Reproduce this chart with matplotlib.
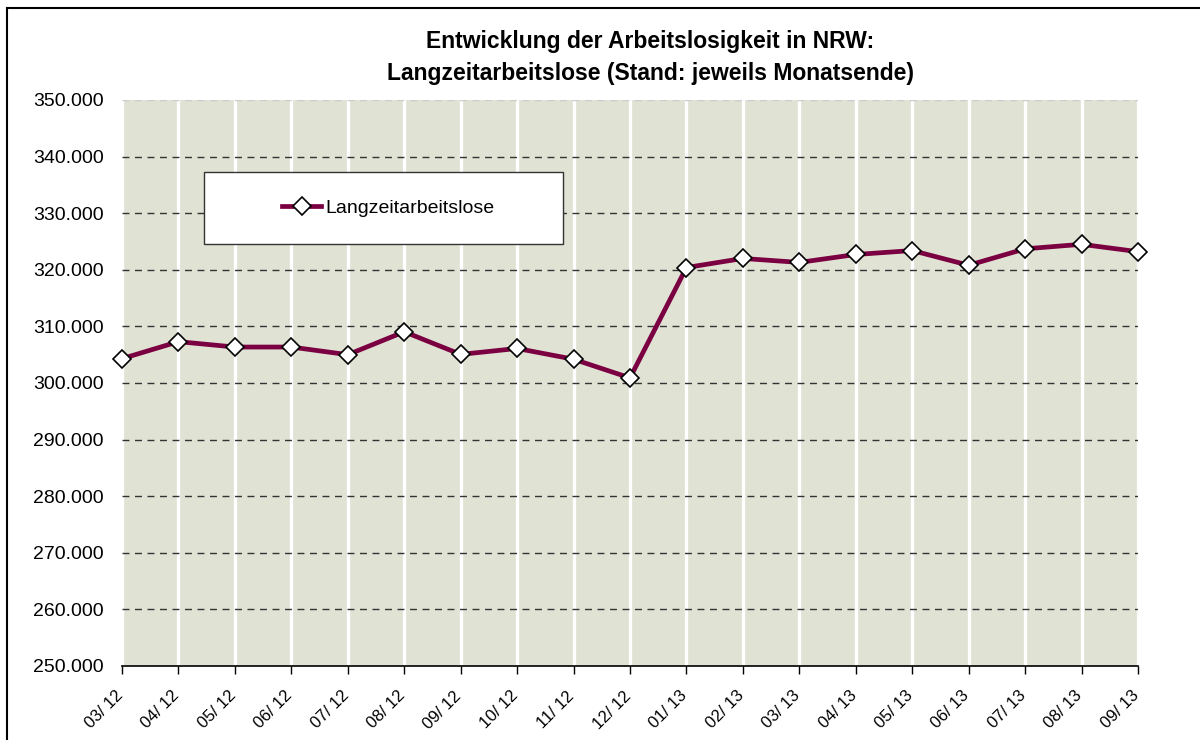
import matplotlib
matplotlib.use('Agg')
import matplotlib.pyplot as plt
from matplotlib.patches import Rectangle
from matplotlib.ticker import FuncFormatter
from matplotlib.transforms import ScaledTranslation

plt.rcParams['font.family'] = ['Liberation Sans', 'DejaVu Sans']

monate = ['03/ 12', '04/ 12', '05/ 12', '06/ 12', '07/ 12', '08/ 12', '09/ 12',
          '10/ 12', '11/ 12', '12/ 12', '01/ 13', '02/ 13', '03/ 13', '04/ 13',
          '05/ 13', '06/ 13', '07/ 13', '08/ 13', '09/ 13']
langzeit = [304300, 307300, 306350, 306350, 305000, 309050, 305050, 306100,
            304200, 300900, 320400, 322000, 321300, 322700, 323400, 320800,
            323700, 324500, 323200]
y_ticks = list(range(250000, 350001, 10000))

fig = plt.figure(figsize=(12, 7.4), dpi=100)
ax = fig.add_axes([0.1017, 0.1, 0.8466, 0.7649])
ax.set_facecolor('#e0e2d4')

x = list(range(len(monate)))

# weisse senkrechte Linien an jedem Monat
for xi in x:
    ax.axvline(xi, color='white', lw=2.4, zorder=1)

ax.set_ylim(250000, 350000)
ax.set_xlim(0, len(monate) - 1)
ax.set_yticks(y_ticks)
ax.yaxis.set_major_formatter(FuncFormatter(lambda v, p: f'{int(v):,}'.replace(',', '.')))
ax.yaxis.grid(True, ls=(0, (5, 4)), color='#333333', lw=1.0, zorder=2)
ax.set_axisbelow(False)
gl = ax.get_ygridlines()
gl[-1].set_color('#cccccc')
gl[0].set_visible(False)

ax.plot(x, langzeit, color='#7b0041', lw=3.4, marker='D', ms=9,
        mfc='white', mec='black', mew=1.2, clip_on=False, zorder=5,
        label='Langzeitarbeitslose')

ax.set_xticks(x)
ax.set_xticklabels(monate, rotation=45, ha='right', rotation_mode='anchor',
                   fontsize=12)
ax.tick_params(axis='x', length=6, width=1, color='black', pad=10)
ax.tick_params(axis='y', length=0, labelsize=14, pad=13)
verschiebung = ScaledTranslation(-5 / 72, 0, fig.dpi_scale_trans)
for lbl in ax.get_xticklabels():
    lbl.set_transform(lbl.get_transform() + verschiebung)

for s in ['left', 'right', 'top']:
    ax.spines[s].set_visible(False)
ax.spines['bottom'].set_linewidth(1.2)

# Legende
ax.add_patch(Rectangle((0.0807, 0.7456), 0.3533, 0.1274, transform=ax.transAxes,
                       facecolor='white', edgecolor='#333333', lw=1, zorder=6))
leg = ax.legend(loc='center', bbox_to_anchor=(0.262, 0.809), frameon=False,
                fontsize=14, handlelength=2.0, handletextpad=0.2)
leg.set_zorder(7)

fig.text(0.5417, 0.944, 'Entwicklung der Arbeitslosigkeit in NRW:', ha='center',
         va='center', fontsize=16.5, fontweight='bold')
fig.text(0.5417, 0.901, 'Langzeitarbeitslose (Stand: jeweils Monatsende)', ha='center',
         va='center', fontsize=16.5, fontweight='bold')

# Rahmen
fig.add_artist(Rectangle((0.006, -0.1), 1.2, 0.1 + (740 - 8) / 740,
                         transform=fig.transFigure, fill=False,
                         edgecolor='black', lw=1.5))

fig.savefig('out.png', dpi=100)
